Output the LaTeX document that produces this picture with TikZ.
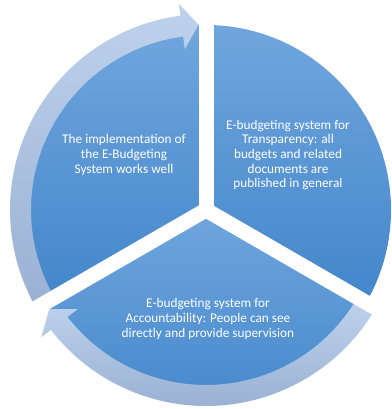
\documentclass[tikz,border=0pt]{standalone}
\usepackage{fontspec}
\setmainfont{Carlito}
\begin{document}
\begin{tikzpicture}[x=1pt,y=1pt,
  sector/.style={top color=sectop,bottom color=secbot},
  cyclearrow/.style={top color=arrtop,bottom color=arrbot},
  gap/.style={white,line width=15},
  txt/.style={text=white,align=center,inner sep=0pt,font=\fontsize{13.3}{14.7}\selectfont}]
\definecolor{sectop}{HTML}{70A6DD}
\definecolor{secbot}{HTML}{4386CB}
\definecolor{arrtop}{HTML}{BED2EC}
\definecolor{arrbot}{HTML}{9AB1D4}
\useasboundingbox (0,0) rectangle (391,409);
\coordinate (C) at (206,199);
\begin{scope}[shift={(C)}]
  % sectors
  \shade[sector] (0,0) -- (90:185) arc[start angle=90,end angle=-30,radius=185] -- cycle;
  \shade[sector] (0,0) -- (210:185) arc[start angle=210,end angle=90,radius=185] -- cycle;
  \shade[sector] (0,0) -- (330:185) arc[start angle=-30,end angle=-150,radius=185] -- cycle;
  % circular arrows
  \shade[cyclearrow] (209:196) arc[start angle=209,end angle=97.5,radius=196]
     -- (97.5:208) -- (92.3:185.5) -- (97.5:162) -- (97.5:175)
     arc[start angle=97.5,end angle=209,radius=175] -- cycle;
  \shade[cyclearrow] (-31:196) arc[start angle=-31,end angle=-142.3,radius=196]
     -- (-142.3:208) -- (-147.7:185.5) -- (-142.3:162) -- (-142.3:175)
     arc[start angle=-142.3,end angle=-31,radius=175] -- cycle;
  % gaps
  \fill[white] (0,0) circle (8);
  \draw[gap] (0,0) -- (90:186);
  \draw[gap] (0,0) -- (210:205);
  \draw[gap] (0,0) -- (330:205);
\end{scope}
\node[txt] (t1) at (124,254) {The implementation of\\the E-Budgeting\\System works well};
\node[txt] (t2) at (288,254) {E-budgeting system for\\Transparency: all\\budgets and related\\documents are\\published in general};
\node[txt] (t3) at (208,90) {E-budgeting system for\\Accountability: People can see\\directly and provide supervision};
\end{tikzpicture}
\end{document}
